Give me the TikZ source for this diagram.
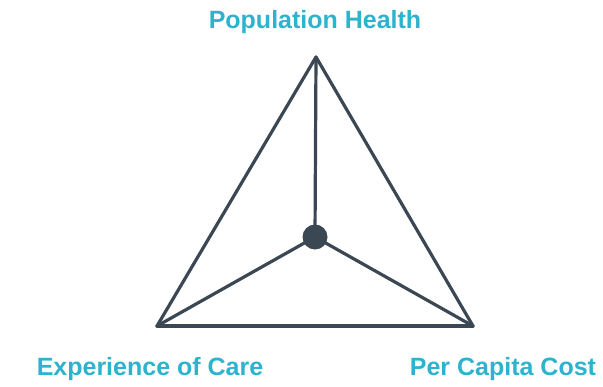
\documentclass[tikz,border=0pt]{standalone}
\usepackage{fontspec}
\setmainfont{Liberation Sans}
\usepackage{tikz}
\usetikzlibrary{positioning}
\definecolor{teal3}{HTML}{2DB3CE}
\definecolor{slate}{HTML}{3B4854}

\begin{document}
\begin{tikzpicture}
	[x=1pt,y=-1pt,every node/.style={font=\fontsize{25}{28}\selectfont\bfseries,text=teal3}]
	\useasboundingbox (0,0) rectangle (603,386);
	\coordinate (top) at (316,57);
	\coordinate (left) at (157,326);
	\coordinate (right) at (473,326);
	\coordinate (mid) at (315,237);
	
	\node (pop) at (315,22) {Population Health};
	\node (exp) at (150,369) {Experience of Care};
	\node (cost) at (503,369) {Per Capita Cost};
	
	\foreach \from/\to in {top/left,left/right,right/top,top/mid,left/mid,right/mid}
	\draw[slate,line width=3.2pt,line cap=round] (\from) -- (\to);
	\fill[slate] (mid) circle (12.5);
	
	\end{tikzpicture}
\end{document}
